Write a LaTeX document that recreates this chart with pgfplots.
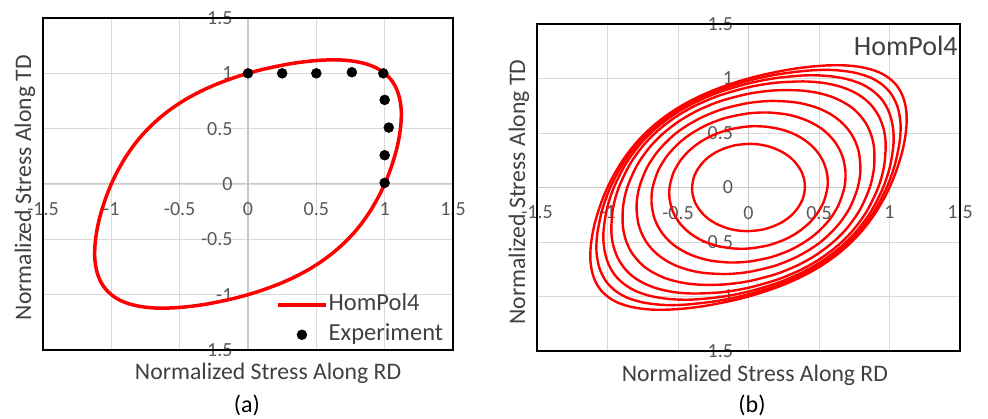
\documentclass[border=0pt]{standalone}
\usepackage{fontspec}
\setmainfont{Carlito}
\usepackage{pgfplots}
\pgfplotsset{compat=1.18}
\definecolor{txt}{HTML}{404040}
\definecolor{tickc}{HTML}{595959}
\definecolor{grd}{HTML}{D9D9D9}
\definecolor{axc}{HTML}{C8C8C8}
\definecolor{xred}{HTML}{FF0000}
\pgfplotsset{
 panel/.style={
  scale only axis, xmin=-1.5, xmax=1.5, ymin=-1.5, ymax=1.5,
  axis lines=middle, axis line style={-, draw=axc, line width=1pt},
  xtick={-1.5,-1,-0.5,0,0.5,1,1.5}, ytick={-1.5,-1,-0.5,0,0.5,1,1.5},
  xticklabels={-1.5,-1,-0.5,0,0.5,1,1.5}, yticklabels={-1.5,-1,-0.5,0,0.5,1,1.5},
  hide obscured x ticks=false, hide obscured y ticks=false,
  major tick length=0pt,
  grid=major, grid style={draw=grd, line width=0.9pt},
  ticklabel style={font=\fontsize{20}{24}\selectfont, text=tickc},
  xticklabel style={anchor=north, yshift=-15pt},
  yticklabel style={anchor=east, xshift=-12pt},
  label style={font=\fontsize{23.7}{28}\selectfont, text=txt},
  xlabel={Normalized Stress Along RD},
  ylabel={Normalized Stress Along TD},
 }
}
\begin{document}
\begin{tikzpicture}
\useasboundingbox (0,0) rectangle (988pt,419pt);
\begin{axis}[panel, name=A,
  at={(43pt,69pt)}, anchor=south west, width=410pt, height=332pt,
  xlabel style={at={(axis description cs:0.549,-0.069)}, anchor=center},
  ylabel style={at={(axis description cs:-0.0439,0.489)}, rotate=90, anchor=center},
  legend cell align=left,
  legend image code/.code={\path[draw=none, fill=none] (0pt,-8pt) rectangle (47pt,8pt);
     \draw[mark repeat=2,mark phase=2,#1] plot coordinates {(0pt,0pt)(23.5pt,0pt)(47pt,0pt)};},
  legend style={at={(axis description cs:0.5695,0.176)}, anchor=north west, draw=none, fill=none,
    font=\fontsize{24.5}{29}\selectfont, text=txt, inner sep=0pt, row sep=4pt,
    nodes={inner sep=1.5pt, text height=17pt, text depth=6pt}},
]
\addplot[xred, line width=3.5pt, smooth] coordinates {
(0.622,-0.622) (0.671,-0.570) (0.725,-0.507) (0.783,-0.430) (0.843,-0.337) (0.904,-0.226) (0.963,-0.096) (1,0) (1.034,0.103) (1.064,0.213) (1.090,0.327) (1.109,0.444) (1.120,0.560) (1.121,0.673) (1.109,0.776) (1.084,0.867) (1.047,0.942) (1,1)
(0.942,1.047) (0.867,1.084) (0.776,1.109) (0.673,1.121) (0.560,1.120) (0.444,1.109) (0.327,1.090) (0.213,1.064) (0.103,1.034) (0,1) (-0.096,0.963) (-0.226,0.904) (-0.337,0.843) (-0.430,0.783) (-0.507,0.725) (-0.570,0.671) (-0.622,0.622)
(-0.671,0.570) (-0.725,0.507) (-0.783,0.430) (-0.843,0.337) (-0.904,0.226) (-0.963,0.096) (-1,0) (-1.034,-0.103) (-1.064,-0.213) (-1.090,-0.327) (-1.109,-0.444) (-1.120,-0.560) (-1.121,-0.673) (-1.109,-0.776) (-1.084,-0.867) (-1.047,-0.942) (-1,-1)
(-0.942,-1.047) (-0.867,-1.084) (-0.776,-1.109) (-0.673,-1.121) (-0.560,-1.120) (-0.444,-1.109) (-0.327,-1.090) (-0.213,-1.064) (-0.103,-1.034) (0,-1) (0.096,-0.963) (0.226,-0.904) (0.337,-0.843) (0.430,-0.783) (0.507,-0.725) (0.570,-0.671) (0.622,-0.622)
};
\addlegendentry{HomPol4}
\addplot[only marks, mark=*, mark size=5pt, black] coordinates {
(0,1) (0.25,1) (0.5,1) (0.76,1.01) (0.99,1) (1.0,0.76) (1.03,0.51) (1.0,0.26) (1.0,0.01)
};
\addlegendentry{Experiment}
\end{axis}
\draw[black, line width=2pt] (A.south west) rectangle (A.north east);

\begin{axis}[panel, name=B,
  at={(537pt,68pt)}, anchor=south west, width=423pt, height=327pt,
  xlabel style={at={(axis description cs:0.515,-0.073)}, anchor=center},
  ylabel style={at={(axis description cs:-0.0426,0.486)}, rotate=90, anchor=center},
]
\addplot[xred, line width=2.4pt, smooth] coordinates {
(0.281,-0.281) (0.318,-0.238) (0.355,-0.178) (0.387,-0.097) (0.400,0) (0.394,0.079) (0.374,0.150) (0.353,0.194) (0.331,0.231) (0.308,0.262) (0.286,0.286)
(0.262,0.308) (0.231,0.331) (0.194,0.353) (0.150,0.374) (0.079,0.394) (0,0.400) (-0.097,0.387) (-0.178,0.355) (-0.238,0.318) (-0.281,0.281)
(-0.318,0.238) (-0.355,0.178) (-0.387,0.097) (-0.400,0) (-0.394,-0.079) (-0.374,-0.150) (-0.353,-0.194) (-0.331,-0.231) (-0.308,-0.262) (-0.286,-0.286)
(-0.262,-0.308) (-0.231,-0.331) (-0.194,-0.353) (-0.150,-0.374) (-0.079,-0.394) (0,-0.400) (0.097,-0.387) (0.178,-0.355) (0.238,-0.318) (0.281,-0.281)
};
\addplot[xred, line width=2.4pt, smooth] coordinates {
(0.381,-0.381) (0.432,-0.324) (0.485,-0.243) (0.533,-0.133) (0.560,0) (0.559,0.112) (0.538,0.215) (0.512,0.282) (0.482,0.337) (0.449,0.382) (0.417,0.417)
(0.382,0.449) (0.337,0.482) (0.282,0.512) (0.215,0.538) (0.112,0.559) (0,0.560) (-0.133,0.533) (-0.243,0.485) (-0.324,0.432) (-0.381,0.381)
(-0.432,0.324) (-0.485,0.243) (-0.533,0.133) (-0.560,0) (-0.559,-0.112) (-0.538,-0.215) (-0.512,-0.282) (-0.482,-0.337) (-0.449,-0.382) (-0.417,-0.417)
(-0.382,-0.449) (-0.337,-0.482) (-0.282,-0.512) (-0.215,-0.538) (-0.112,-0.559) (0,-0.560) (0.133,-0.533) (0.243,-0.485) (0.324,-0.432) (0.381,-0.381)
};
\addplot[xred, line width=2.4pt, smooth] coordinates {
(0.452,-0.452) (0.512,-0.384) (0.578,-0.289) (0.639,-0.160) (0.680,0) (0.688,0.138) (0.671,0.268) (0.643,0.354) (0.608,0.426) (0.569,0.483) (0.529,0.529)
(0.483,0.569) (0.426,0.608) (0.354,0.643) (0.268,0.671) (0.138,0.688) (0,0.680) (-0.160,0.639) (-0.289,0.578) (-0.384,0.512) (-0.452,0.452)
(-0.512,0.384) (-0.578,0.289) (-0.639,0.160) (-0.680,0) (-0.688,-0.138) (-0.671,-0.268) (-0.643,-0.354) (-0.608,-0.426) (-0.569,-0.483) (-0.529,-0.529)
(-0.483,-0.569) (-0.426,-0.608) (-0.354,-0.643) (-0.268,-0.671) (-0.138,-0.688) (0,-0.680) (0.160,-0.639) (0.289,-0.578) (0.384,-0.512) (0.452,-0.452)
};
\addplot[xred, line width=2.4pt, smooth] coordinates {
(0.506,-0.506) (0.573,-0.430) (0.648,-0.324) (0.721,-0.180) (0.775,0) (0.794,0.159) (0.784,0.314) (0.759,0.417) (0.722,0.505) (0.677,0.576) (0.630,0.630)
(0.576,0.677) (0.505,0.722) (0.417,0.759) (0.314,0.784) (0.159,0.794) (0,0.775) (-0.180,0.721) (-0.324,0.648) (-0.430,0.573) (-0.506,0.506)
(-0.573,0.430) (-0.648,0.324) (-0.721,0.180) (-0.775,0) (-0.794,-0.159) (-0.784,-0.314) (-0.759,-0.417) (-0.722,-0.505) (-0.677,-0.576) (-0.630,-0.630)
(-0.576,-0.677) (-0.505,-0.722) (-0.417,-0.759) (-0.314,-0.784) (-0.159,-0.794) (0,-0.775) (0.180,-0.721) (0.324,-0.648) (0.430,-0.573) (0.506,-0.506)
};
\addplot[xred, line width=2.4pt, smooth] coordinates {
(0.552,-0.552) (0.627,-0.470) (0.710,-0.355) (0.793,-0.198) (0.860,0) (0.890,0.178) (0.891,0.357) (0.871,0.479) (0.835,0.584) (0.786,0.668) (0.733,0.733)
(0.668,0.786) (0.584,0.835) (0.479,0.871) (0.357,0.891) (0.178,0.890) (0,0.860) (-0.198,0.793) (-0.355,0.710) (-0.470,0.627) (-0.552,0.552)
(-0.627,0.470) (-0.710,0.355) (-0.793,0.198) (-0.860,0) (-0.890,-0.178) (-0.891,-0.357) (-0.871,-0.479) (-0.835,-0.584) (-0.786,-0.668) (-0.733,-0.733)
(-0.668,-0.786) (-0.584,-0.835) (-0.479,-0.871) (-0.357,-0.891) (-0.178,-0.890) (0,-0.860) (0.198,-0.793) (0.355,-0.710) (0.470,-0.627) (0.552,-0.552)
};
\addplot[xred, line width=2.4pt, smooth] coordinates {
(0.584,-0.584) (0.663,-0.498) (0.752,-0.376) (0.842,-0.211) (0.920,0) (0.961,0.192) (0.973,0.389) (0.960,0.528) (0.926,0.649) (0.877,0.745) (0.818,0.818)
(0.745,0.877) (0.649,0.926) (0.528,0.960) (0.389,0.973) (0.192,0.961) (0,0.920) (-0.211,0.842) (-0.376,0.752) (-0.498,0.663) (-0.584,0.584)
(-0.663,0.498) (-0.752,0.376) (-0.842,0.211) (-0.920,0) (-0.961,-0.192) (-0.973,-0.389) (-0.960,-0.528) (-0.926,-0.649) (-0.877,-0.745) (-0.818,-0.818)
(-0.745,-0.877) (-0.649,-0.926) (-0.528,-0.960) (-0.389,-0.973) (-0.192,-0.961) (0,-0.920) (0.211,-0.842) (0.376,-0.752) (0.498,-0.663) (0.584,-0.584)
};
\addplot[xred, line width=2.4pt, smooth] coordinates {
(0.601,-0.601) (0.683,-0.512) (0.775,-0.387) (0.870,-0.218) (0.955,0) (1.005,0.201) (1.029,0.411) (1.023,0.563) (0.995,0.697) (0.947,0.805) (0.884,0.884)
(0.805,0.947) (0.697,0.995) (0.563,1.023) (0.411,1.029) (0.201,1.005) (0,0.955) (-0.218,0.870) (-0.387,0.775) (-0.512,0.683) (-0.601,0.601)
(-0.683,0.512) (-0.775,0.387) (-0.870,0.218) (-0.955,0) (-1.005,-0.201) (-1.029,-0.411) (-1.023,-0.563) (-0.995,-0.697) (-0.947,-0.805) (-0.884,-0.884)
(-0.805,-0.947) (-0.697,-0.995) (-0.563,-1.023) (-0.411,-1.029) (-0.201,-1.005) (0,-0.955) (0.218,-0.870) (0.387,-0.775) (0.512,-0.683) (0.601,-0.601)
};
\addplot[xred, line width=2.4pt, smooth] coordinates {
(0.613,-0.613) (0.696,-0.522) (0.790,-0.395) (0.889,-0.222) (0.980,0) (1.038,0.208) (1.073,0.429) (1.078,0.593) (1.057,0.740) (1.011,0.860) (0.946,0.946)
(0.860,1.011) (0.740,1.057) (0.593,1.078) (0.429,1.073) (0.208,1.038) (0,0.980) (-0.222,0.889) (-0.395,0.790) (-0.522,0.696) (-0.613,0.613)
(-0.696,0.522) (-0.790,0.395) (-0.889,0.222) (-0.980,0) (-1.038,-0.208) (-1.073,-0.429) (-1.078,-0.593) (-1.057,-0.740) (-1.011,-0.860) (-0.946,-0.946)
(-0.860,-1.011) (-0.740,-1.057) (-0.593,-1.078) (-0.429,-1.073) (-0.208,-1.038) (0,-0.980) (0.222,-0.889) (0.395,-0.790) (0.522,-0.696) (0.613,-0.613)
};
\addplot[xred, line width=2.4pt, smooth] coordinates {
(0.622,-0.622) (0.671,-0.570) (0.725,-0.507) (0.783,-0.430) (0.843,-0.337) (0.904,-0.226) (0.963,-0.096) (1,0) (1.034,0.103) (1.064,0.213) (1.090,0.327) (1.109,0.444) (1.120,0.560) (1.121,0.673) (1.109,0.776) (1.084,0.867) (1.047,0.942) (1,1)
(0.942,1.047) (0.867,1.084) (0.776,1.109) (0.673,1.121) (0.560,1.120) (0.444,1.109) (0.327,1.090) (0.213,1.064) (0.103,1.034) (0,1) (-0.096,0.963) (-0.226,0.904) (-0.337,0.843) (-0.430,0.783) (-0.507,0.725) (-0.570,0.671) (-0.622,0.622)
(-0.671,0.570) (-0.725,0.507) (-0.783,0.430) (-0.843,0.337) (-0.904,0.226) (-0.963,0.096) (-1,0) (-1.034,-0.103) (-1.064,-0.213) (-1.090,-0.327) (-1.109,-0.444) (-1.120,-0.560) (-1.121,-0.673) (-1.109,-0.776) (-1.084,-0.867) (-1.047,-0.942) (-1,-1)
(-0.942,-1.047) (-0.867,-1.084) (-0.776,-1.109) (-0.673,-1.121) (-0.560,-1.120) (-0.444,-1.109) (-0.327,-1.090) (-0.213,-1.064) (-0.103,-1.034) (0,-1) (0.096,-0.963) (0.226,-0.904) (0.337,-0.843) (0.430,-0.783) (0.507,-0.725) (0.570,-0.671) (0.622,-0.622)
};
\node[anchor=east, inner sep=0pt, font=\fontsize{28}{32}\selectfont, text=txt] at (axis description cs:0.995,0.933) {HomPol4};
\end{axis}
\draw[black, line width=2pt] (B.south west) rectangle (B.north east);

\node[font=\fontsize{24}{28}\selectfont, text=black] at (247pt,14pt) {(a)};
\node[font=\fontsize{24}{28}\selectfont, text=black] at (752pt,14pt) {(b)};
\end{tikzpicture}
\end{document}
